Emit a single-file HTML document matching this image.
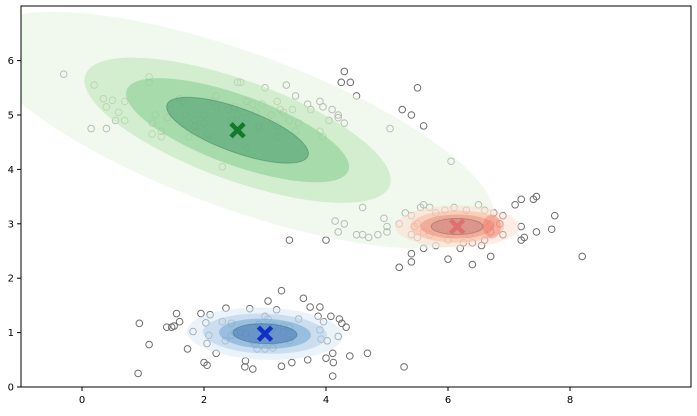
<!DOCTYPE html>
<html><head><meta charset="utf-8"><style>
body{margin:0;background:#fff;}
svg text{font-family:"DejaVu Sans","Liberation Sans",sans-serif;font-size:10px;fill:#000;}
</style></head><body>
<svg id="chart" width="697" height="411" xmlns="http://www.w3.org/2000/svg">
<defs><clipPath id="clip"><rect x="21" y="6" width="670" height="381"/></clipPath></defs>
<g id="points" clip-path="url(#clip)"></g>
<g id="ells" clip-path="url(#clip)"></g>
<g id="centers"></g>
<rect x="21" y="6" width="670" height="381" fill="none" stroke="#000" stroke-width="1"/>
<g id="xt"></g>
<g id="yt"></g>
</svg>
<script>
const xTicks=[0,2,4,6,8];
const yTicks=[0,1,2,3,4,5,6];
const ptsX=[-0.3,0.2,0.35,0.5,0.4,0.6,0.55,0.15,0.4,0.7,0.7,1.1,1.1,1.2,1.15,1.15,1.3,1.3,1.4,1.45,1.6,1.65,1.7,1.75,1.85,1.85,2.0,2.0,2.05,2.15,2.15,2.2,2.2,2.4,2.3,2.5,2.55,2.6,2.55,2.45,2.5,2.7,2.65,2.7,2.8,2.85,2.9,2.9,3.1,3.0,3.2,3.2,3.2,3.25,3.3,3.4,3.5,3.45,3.55,3.7,3.75,3.9,3.95,4.1,4.2,4.3,4.2,4.05,3.95,3.9,4.3,4.25,4.4,4.5,5.05,5.25,5.4,5.5,6.05,5.6,3.4,4.0,3.35,3.5,2.7,2.95,
4.2,4.3,4.5,4.6,4.7,4.85,5.0,5.0,4.95,5.2,5.3,5.4,5.55,5.6,5.7,5.8,5.95,6.1,6.3,6.5,6.6,6.75,6.85,6.9,5.45,5.6,5.7,5.85,5.95,6.05,6.15,6.25,6.35,6.5,6.6,6.7,6.7,6.55,6.4,6.25,5.5,5.4,5.6,5.8,6.0,6.2,6.4,5.2,5.4,5.4,6.7,7.2,7.4,7.45,7.1,7.75,7.2,7.25,7.2,7.45,7.7,8.2,6.0,4.15,4.6,5.5,6.9,5.9,
0.94,1.1,0.92,1.39,1.47,1.51,1.55,1.6,1.73,1.82,1.95,2.0,2.05,2.03,2.1,2.2,2.36,2.45,2.35,2.67,2.68,2.75,2.8,2.84,3.05,3.27,3.27,3.19,3.13,3.3,3.44,3.63,3.7,3.74,3.9,3.87,3.92,3.9,3.96,4.02,4.0,4.08,4.11,4.12,4.11,4.22,4.26,4.33,4.39,4.68,5.28,4.2,
2.05,2.08,2.3,2.45,2.5,2.68,2.8,2.9,3.0,3.05,3.1,3.15,3.3,3.4,3.4,3.55,3.0,2.6,2.87];
const ptsY=[5.75,5.55,5.3,5.27,5.15,5.05,4.9,4.75,4.75,4.9,5.25,5.7,5.6,5.0,4.85,4.65,4.7,4.6,4.95,5.2,5.3,5.25,5.0,4.6,4.8,4.9,5.0,4.85,4.65,4.6,5.25,5.35,5.15,5.1,4.05,5.15,5.6,5.6,5.0,4.9,4.85,4.4,4.45,5.25,5.2,5.05,4.8,4.75,5.0,5.5,5.25,4.8,4.6,5.1,5.05,4.9,4.7,5.1,4.85,5.2,5.1,5.25,5.15,5.1,5.0,4.85,4.95,4.9,4.6,4.7,5.8,5.6,5.6,5.35,4.75,5.1,5.0,5.5,4.15,4.8,2.7,2.7,5.55,5.35,4.95,5.2,
2.85,3.0,2.8,2.8,2.75,2.8,2.85,2.95,3.1,3.0,3.2,3.15,3.3,3.35,3.3,3.2,3.25,3.3,3.25,3.35,3.25,3.2,3.0,3.15,2.95,2.85,2.8,2.95,2.9,2.8,3.0,2.9,2.8,2.95,2.7,3.0,2.85,2.6,2.65,2.65,2.75,2.8,2.55,2.6,2.7,2.55,2.25,2.2,2.45,2.3,2.4,3.45,3.45,3.5,3.35,3.15,2.95,2.75,2.7,2.85,2.9,2.4,2.35,3.05,3.3,3.0,2.8,3.05,
1.17,0.78,0.25,1.1,1.1,1.12,1.35,1.2,0.7,1.02,1.35,0.45,0.4,1.18,1.33,0.62,1.45,1.17,0.85,0.37,0.48,1.44,0.33,0.78,1.58,1.77,0.38,1.42,0.72,1.0,0.45,1.63,0.5,1.47,1.47,1.3,0.88,1.05,1.2,0.85,0.53,1.3,0.62,0.45,0.2,1.25,1.17,1.1,0.57,0.62,0.37,0.93,
0.8,0.95,1.2,0.95,1.0,0.98,0.85,1.15,1.3,1.25,1.05,1.12,1.12,1.1,0.85,1.25,0.7,1.0,0.7];
const centersX=[2.55,6.15,3.0];
const centersY=[4.72,2.95,0.98];
const X=v=>82+v*61.0, Y=v=>387-v*54.4;
const NS="http://www.w3.org/2000/svg";
function mk(t,a,p){const e=document.createElementNS(NS,t);for(const k in a)e.setAttribute(k,a[k]);p.appendChild(e);return e;}
const gp=document.getElementById('points');
ptsX.forEach((x,i)=>{const c=mk('circle',{cx:X(x),cy:Y(ptsY[i]),r:3.3,fill:'none',stroke:'#6e6e6e','stroke-width':1},gp);

});
const ge=document.getElementById('ells');
const specs=[
 {c:0,rot:20,rx:[272,162,118,75],ry:[78,50,35,22],col:['#e8f5e4','#bfe6b8','#8ccf94','#4f9f70'],op:[0.6,0.6,0.6,0.6]},
 {c:1,rot:0,rx:[62,47,37,26],ry:[21,16,12,8],col:['#fddccc','#fbb497','#ee8a78','#c88080'],op:[0.5,0.5,0.5,0.5]},
 {c:2,rot:2,rx:[78,62,46,32],ry:[26,20,15,10],col:['#d8e8f6','#b0cde8','#6fa6d3','#4475b3'],op:[0.55,0.55,0.55,0.55]}];
specs.forEach(s=>{const cx=X(centersX[s.c]),cy=Y(centersY[s.c]);
 s.rx.forEach((rx,k)=>{const e=mk('ellipse',{cx:cx,cy:cy,rx:rx,ry:s.ry[k],fill:s.col[k],'fill-opacity':s.op[k],stroke:k==3?'rgba(0,60,30,0.25)':'none',transform:`rotate(${s.rot} ${cx} ${cy})`},ge);
 
 });});
const hot=mk('ellipse',{cx:X(6.72),cy:Y(2.95),rx:9,ry:12,fill:'#f05a4a','fill-opacity':0.3},ge);


const gc=document.getElementById('centers');const cc=['#127a2a','#e07070','#1030c8'];
centersX.forEach((x,i)=>{const cx=X(x),cy=Y(centersY[i]);const p=mk('path',{d:`M${cx-5} ${cy-5}L${cx+5} ${cy+5}M${cx+5} ${cy-5}L${cx-5} ${cy+5}`,stroke:cc[i],'stroke-width':4.5,'stroke-linecap':'square'},gc);

});
const gx=document.getElementById('xt');
xTicks.forEach(v=>{mk('line',{x1:X(v),x2:X(v),y1:387,y2:391,stroke:'#000'},gx);const t=mk('text',{x:X(v),y:403,'text-anchor':'middle'},gx);t.textContent=v;

});
const gy=document.getElementById('yt');
yTicks.forEach(v=>{mk('line',{x1:17,x2:21,y1:Y(v),y2:Y(v),stroke:'#000'},gy);const t=mk('text',{x:14,y:Y(v)+3.5,'text-anchor':'end'},gy);t.textContent=v;

});
</script>
</body></html>
